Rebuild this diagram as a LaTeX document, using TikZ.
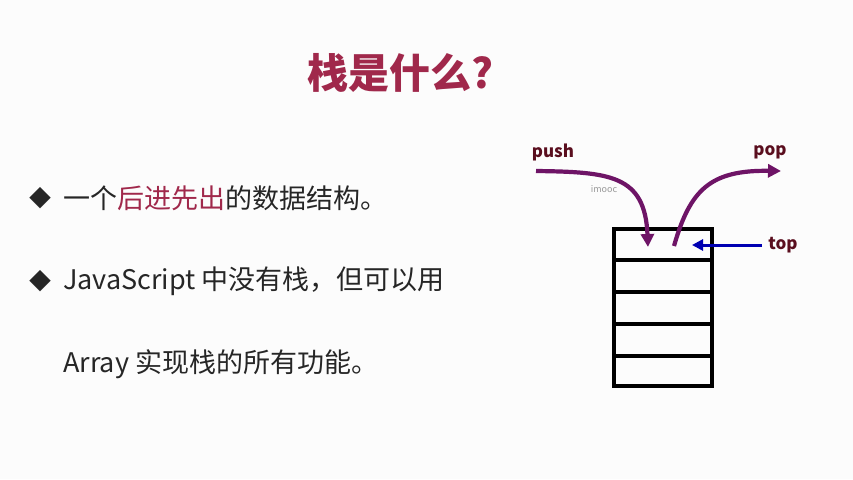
\documentclass[tikz,border=0pt]{standalone}
\usepackage{fontspec}
\setmainfont{Noto Sans CJK SC}
\usetikzlibrary{arrows.meta}
\definecolor{tred}{HTML}{A0284B}
\definecolor{pur}{HTML}{6E1466}
\definecolor{lbl}{HTML}{5A0E1E}
\tikzset{
  txt/.style={anchor=west,font=\fontsize{27}{30}\selectfont,text=black!85,inner sep=0},
  bul/.style={font=\fontsize{22}{24}\selectfont,text=black!85,inner sep=0},
  lab/.style={font=\fontsize{17}{19}\selectfont\bfseries,text=lbl,inner sep=0},
  parr/.style={pur,line width=4.2pt,-{Triangle[length=13pt,width=13pt]}},
  cell/.style={draw=black,line width=3.4pt}
}
\begin{document}
\begin{tikzpicture}[x=1pt,y=-1pt]
\fill[white!98!gray] (0,0) rectangle (853,479);
\node[font=\fontsize{41}{44}\selectfont\bfseries,text=tred] (title) at (400,73) {栈是什么?};
\node[bul] (b1) at (40,198) {◆};
\node[txt] (t1) at (63,198) {一个\textcolor{tred}{后进先出}的数据结构。};
\node[bul] (b2) at (40,281) {◆};
\node[txt] (t2) at (63,281) {JavaScript 中没有栈，但可以用};
\node[txt] (t3) at (63,364) {Array 实现栈的所有功能。};
\draw[cell] (614,229) rectangle (712,386);
\foreach \y in {260,292,324,356} \draw[cell] (614,\y) -- (712,\y);
\coordinate (ps) at (536,171);
\coordinate (pe) at (648,247);
\coordinate (os) at (674,246);
\coordinate (oe) at (781,171);
\draw[parr] (ps) .. controls (610,172) and (645,175) .. (pe);
\draw[parr] (os) .. controls (690,190) and (710,170) .. (oe);
\coordinate (ts) at (762,245);
\coordinate (te) at (692,245);
\draw[blue!70!black,line width=3pt,-{Triangle[length=11pt,width=11pt]}] (ts) -- (te);
\node[lab] (push) at (553,152) {push};
\node[lab] (pop) at (770,152) {pop};
\node[lab] (top) at (783,245) {top};
\node[font=\fontsize{9}{10}\selectfont,text=black!40] (im) at (604,189) {imooc};
\end{tikzpicture}
\end{document}
